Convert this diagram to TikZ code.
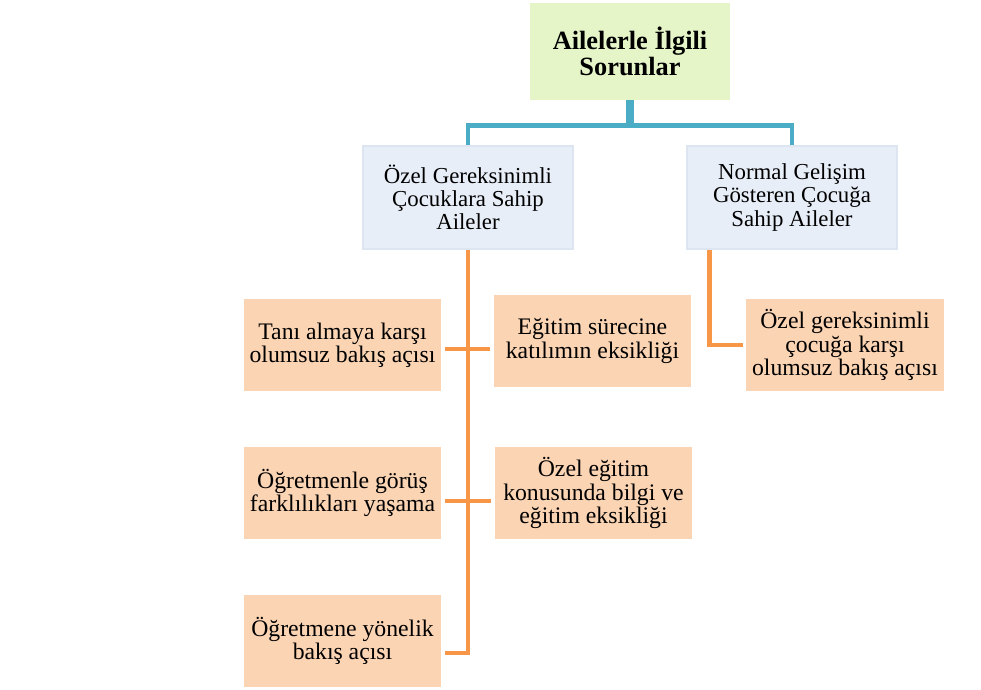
\documentclass[tikz,border=0pt]{standalone}
\usepackage{fontspec}
\setmainfont{Liberation Serif}
\usepackage{xcolor}
\definecolor{rootgreen}{HTML}{E5F5C8}
\definecolor{famblue}{HTML}{E8EEF8}
\definecolor{famedge}{HTML}{DDE5F1}
\definecolor{probpeach}{HTML}{FBD4B4}
\definecolor{linkblue}{HTML}{4BACC6}
\definecolor{linkorange}{HTML}{F79646}
\usetikzlibrary{positioning, calc}

\begin{document}
\begin{tikzpicture}[
  x=0.02cm, y=-0.02cm,
  rootbox/.style={rectangle, fill=rootgreen, draw=none,
                  minimum width=4cm, minimum height=1.94cm,
                  align=center, font=\fontsize{15}{14.5}\selectfont\bfseries},
  fambox/.style={rectangle, fill=famblue, draw=famedge, line width=1.6pt,
                 minimum width=4.2cm, minimum height=2.06cm,
                 align=center, font=\fontsize{13}{13.2}\selectfont},
  probbox/.style={rectangle, fill=probpeach, draw=white, line width=2pt,
                  minimum width=4.02cm, minimum height=1.92cm,
                  align=center, font=\fontsize{13.5}{13.3}\selectfont},
  bluelink/.style={draw=linkblue, line width=2.8pt},
  orlink/.style={draw=linkorange, line width=2.8pt}
]
  \useasboundingbox (0,0) rectangle (981,690);

  \node[rootbox] (root) at (630,51.5) {Ailelerle İlgili\\Sorunlar};

  \node[fambox] (ozel) at (468,197.5)
    {Özel Gereksinimli\\Çocuklara Sahip\\Aileler};
  \node[fambox] (normal) at (792,197.5)
    {Normal Gelişim\\Gösteren Çocuğa\\Sahip Aileler};

  \node[probbox] (tani) at (342.5,345) {Tanı almaya karşı\\olumsuz bakış açısı};
  \node[probbox] (surec) at (592.5,341) {Eğitim sürecine\\katılımın eksikliği};
  \node[probbox] (cocuk) at (845,345)
    {Özel gereksinimli\\çocuğa karşı\\olumsuz bakış açısı};
  \node[probbox] (gorus) at (342.5,493) {Öğretmenle görüş\\farklılıkları yaşama};
  \node[probbox] (bilgi) at (593.5,493)
    {Özel eğitim\\konusunda bilgi ve\\eğitim eksikliği};
  \node[probbox] (yonelik) at (342.5,641) {Öğretmene yönelik\\bakış açısı};

  % blue bus
  \coordinate (bus) at ($(root.south)+(0,25)$);
  \draw[bluelink, line width=4.5pt] (root.south) -- (bus);
  \draw[bluelink] (bus) -| (ozel.north);
  \draw[bluelink] (bus) -| (normal.north);

  % orange branches
  \draw[orlink] (ozel.south) |- ([yshift=-0.24cm]yonelik.east);
  \draw[orlink] ([yshift=-0.08cm]tani.east) -- ([yshift=-0.08cm]tani.east -| surec.west);
  \draw[orlink] ([yshift=-0.16cm]gorus.east) -- ([yshift=-0.16cm]gorus.east -| bilgi.west);
  \draw[orlink] ([xshift=0.48cm]normal.south west) |- (cocuk.west);
\end{tikzpicture}
\end{document}
